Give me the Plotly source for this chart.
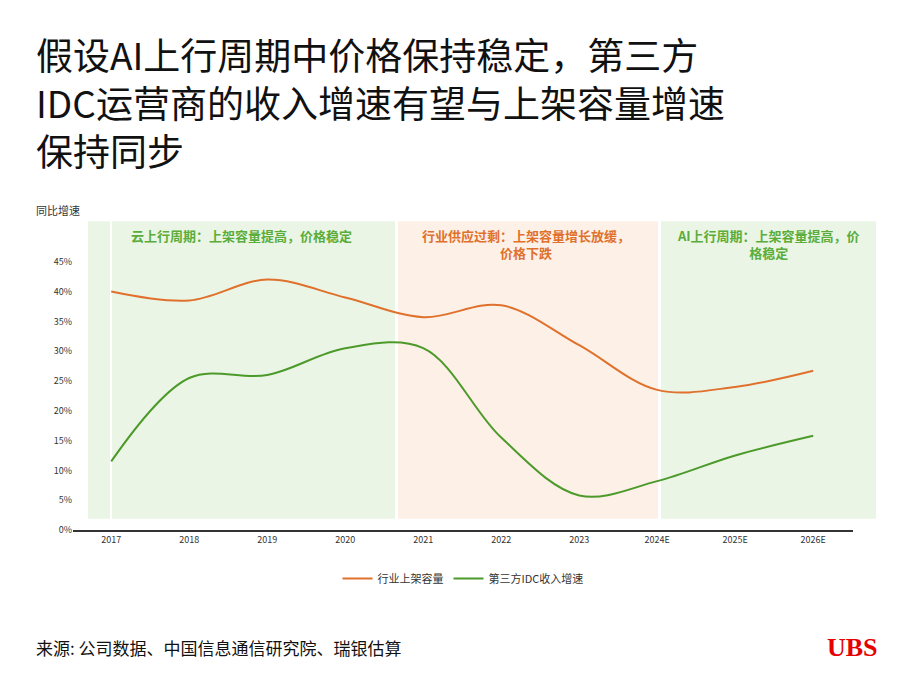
import plotly.graph_objects as go

years = ["2017", "2018", "2019", "2020", "2021", "2022", "2023", "2024E", "2025E", "2026E"]
capacity = [40.0, 38.5, 42.0, 39.0, 35.7, 37.7, 31.0, 23.5, 24.0, 26.7]
idc_revenue = [11.5, 25.5, 26.0, 30.5, 30.5, 15.5, 5.8, 8.2, 12.5, 15.8]
y_ticks = [0, 5, 10, 15, 20, 25, 30, 35, 40, 45]

L, R = 65, 52
W, H = 897, 686
XR = [-0.49, 9.51]


def px_to_paper(px):
    return (px - L) / (W - L - R)


fig = go.Figure()

fig.add_trace(go.Scatter(x=list(range(len(years))), y=capacity, mode="lines",
                         line=dict(color="#e0712c", width=2, shape="spline", smoothing=1.0),
                         name="行业上架容量"))
fig.add_trace(go.Scatter(x=list(range(len(years))), y=idc_revenue, mode="lines",
                         line=dict(color="#4c9a2a", width=2, shape="spline", smoothing=1.0),
                         name="第三方IDC收入增速"))

# shaded periods
bands = [(80, 387, "rgba(120,190,90,0.15)"), (390, 650, "rgba(245,170,120,0.18)"),
         (653, 868, "rgba(120,190,90,0.15)")]
for x0, x1, c in bands:
    fig.add_shape(type="rect", xref="paper", yref="y", x0=px_to_paper(x0), x1=px_to_paper(x1),
                  y0=1.9, y1=51.8, fillcolor=c, line_width=0, layer="below")

notes = [
    (233, "<b>云上行周期：上架容量提高，价格稳定</b>", "#5aad3a"),
    (518, "<b>行业供应过剩：上架容量增长放缓，<br>价格下跌</b>", "#e0712c"),
    (760, "<b>AI上行周期：上架容量提高，价<br>格稳定</b>", "#5aad3a"),
]
for px, t, c in notes:
    fig.add_annotation(x=px_to_paper(px), y=51.3, xref="paper", yref="y", text=t,
                       showarrow=False, xanchor="center", yanchor="top", align="center",
                       font=dict(size=13, color=c, family="Noto Sans CJK SC"))

fig.update_layout(
    width=W, height=H,
    margin=dict(l=L, r=R, t=212, b=164),
    plot_bgcolor="white", paper_bgcolor="white",
    font=dict(family="Noto Sans CJK SC", color="#333"),
    xaxis=dict(range=XR, tickmode="array", tickvals=list(range(len(years))), ticktext=years,
               showgrid=False, showline=True, linecolor="#333", linewidth=1.5, automargin=False,
               ticks="", tickfont=dict(size=9, color="#333")),
    yaxis=dict(range=[0, 52], tickmode="array", tickvals=y_ticks, automargin=False,
               ticktext=[f"{v}%" for v in y_ticks], showgrid=False, zeroline=False,
               tickfont=dict(size=9, color="#333")),
    legend=dict(orientation="h", x=0.5, xanchor="center", y=-0.11, yanchor="top",
                font=dict(size=11, color="#333")),
)

# title
fig.add_annotation(x=28, y=18, xref="paper", yref="paper", showarrow=False,
                   text="假设AI上行周期中价格保持稳定，第三方<br>IDC运营商的收入增速有望与上架容量增速<br>保持同步",
                   align="left", font=dict(size=37, color="#111", family="Noto Sans CJK SC"))
fig.layout.annotations[-1].update(x=px_to_paper(26), y=1.0 + 195 / 310, xanchor="left", yanchor="top")

fig.add_annotation(x=px_to_paper(26), y=1.0, xref="paper", yref="paper", text="同比增速",
                   showarrow=False, xanchor="left", yanchor="bottom",
                   font=dict(size=11, color="#333"))

fig.add_annotation(x=px_to_paper(26), y=-0.38, xref="paper", yref="paper", xanchor="left", yanchor="middle",
                   text="来源: 公司数据、中国信息通信研究院、瑞银估算", showarrow=False,
                   font=dict(size=17, color="#111"))
fig.add_annotation(x=px_to_paper(872), y=-0.38, xref="paper", yref="paper", xanchor="right", yanchor="middle",
                   text="<b>UBS</b>", showarrow=False,
                   font=dict(size=26, color="#e60000", family="Liberation Serif"))

fig.write_html("out.html")
